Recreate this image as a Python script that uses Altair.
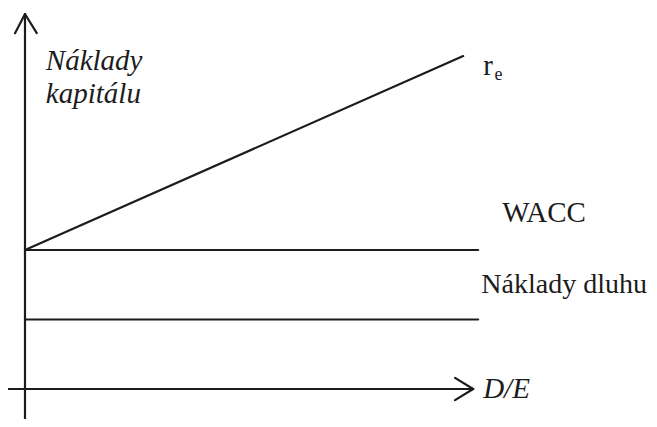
import altair as alt
import pandas as pd

# Conceptual units: origin at the axes' crossing
# Line segments (x, y) -> (x2, y2)
seg_name = ["y_axis", "y_arrow_l", "y_arrow_r", "x_axis", "x_arrow_u", "x_arrow_d",
            "wacc", "debt", "r_e"]
seg_x = [0.0, -0.22, 0.26, -0.375, 9.49, 9.49, 0.0, 0.0, 0.0]
seg_y = [-1.1, 10.24, 10.24, 0.0, 0.32, -0.32, 4.0, 2.0, 4.0]
seg_x2 = [0.0, 0.0, 0.0, 9.89, 9.89, 9.89, 10.0, 10.0, 9.67]
seg_y2 = [10.79, 10.79, 10.79, 0.0, 0.0, 0.0, 4.0, 2.0, 9.58]

# Labels
ital_text = ["Náklady", "kapitálu", "D/E"]
ital_x = [0.46, 0.46, 10.11]
ital_y = [9.18, 8.23, -0.26]

norm_text = ["r", "WACC"]
norm_x = [10.11, 10.53]
norm_y = [9.04, 4.81]

debt_text = ["Náklady dluhu"]
debt_x = [10.07]
debt_y = [2.76]

sub_text = ["e"]
sub_x = [10.36]
sub_y = [8.89]

segs = pd.DataFrame({"name": seg_name, "x": seg_x, "y": seg_y, "x2": seg_x2, "y2": seg_y2})
ital = pd.DataFrame({"t": ital_text, "x": ital_x, "y": ital_y})
norm = pd.DataFrame({"t": norm_text, "x": norm_x, "y": norm_y})
debt = pd.DataFrame({"t": debt_text, "x": debt_x, "y": debt_y})
sub = pd.DataFrame({"t": sub_text, "x": sub_x, "y": sub_y})

xs = alt.Scale(domain=[-0.375, 13.77], nice=False, zero=False)
ys = alt.Scale(domain=[-0.863, 10.964], nice=False, zero=False)

INK = "#1c1c1c"
FONT = "Liberation Serif"

lines = alt.Chart(segs).mark_rule(color=INK, strokeWidth=2.2, strokeCap="round").encode(
    x=alt.X("x:Q", scale=xs, axis=None),
    y=alt.Y("y:Q", scale=ys, axis=None),
    x2="x2:Q",
    y2="y2:Q",
)

t_ital = alt.Chart(ital).mark_text(
    font=FONT, fontSize=29, fontStyle="italic", align="left", baseline="alphabetic", color=INK
).encode(x=alt.X("x:Q", scale=xs, axis=None), y=alt.Y("y:Q", scale=ys, axis=None), text="t:N")

t_norm = alt.Chart(norm).mark_text(
    font=FONT, fontSize=29, align="left", baseline="alphabetic", color=INK
).encode(x=alt.X("x:Q", scale=xs, axis=None), y=alt.Y("y:Q", scale=ys, axis=None), text="t:N")

t_debt = alt.Chart(debt).mark_text(
    font=FONT, fontSize=28, align="left", baseline="alphabetic", color=INK
).encode(x=alt.X("x:Q", scale=xs, axis=None), y=alt.Y("y:Q", scale=ys, axis=None), text="t:N")

t_sub = alt.Chart(sub).mark_text(
    font=FONT, fontSize=18, align="left", baseline="alphabetic", color=INK
).encode(x=alt.X("x:Q", scale=xs, axis=None), y=alt.Y("y:Q", scale=ys, axis=None), text="t:N")

chart = alt.layer(lines, t_ital, t_norm, t_debt, t_sub).properties(
    width=641, height=411, padding=0, autosize=alt.AutoSizeParams(type="none"),
    background="white",
).configure_view(stroke=None)

chart.save("out.html", embed_options={"renderer": "svg", "actions": False})
